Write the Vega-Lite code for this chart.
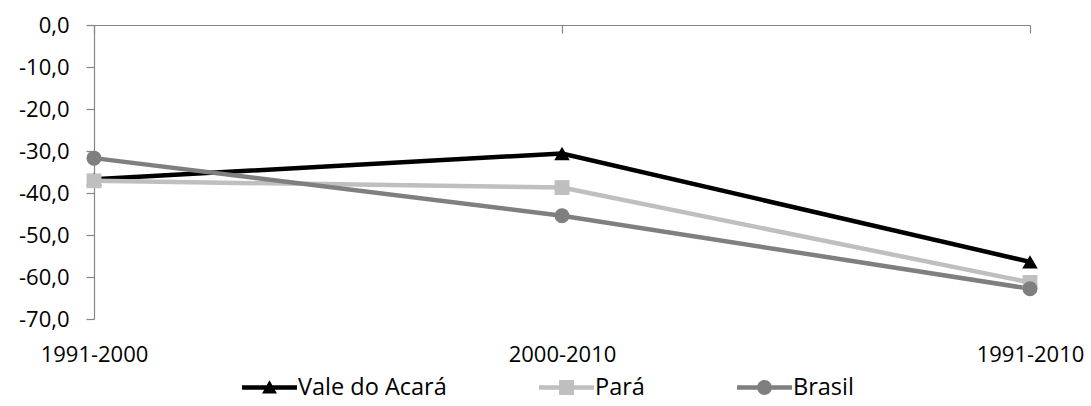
{
  "$schema": "https://vega.github.io/schema/vega-lite/v6.json",
  "width": 936,
  "height": 294,
  "autosize": "none",
  "padding": {"left": 94, "top": 25, "right": 61, "bottom": 87},
  "background": "white",
  "config": {
    "view": {"stroke": null},
    "font": "Open Sans",
    "locale": {
      "number": {"decimal": ",", "thousands": ".", "grouping": [3], "currency": ["R$", ""], "minus": "-"}
    }
  },
  "data": {
    "values": [
      {"periodo": "1991-2000", "serie": "Vale do Acará", "valor": -36.7},
      {"periodo": "2000-2010", "serie": "Vale do Acará", "valor": -30.6},
      {"periodo": "1991-2010", "serie": "Vale do Acará", "valor": -56.4},
      {"periodo": "1991-2000", "serie": "Pará", "valor": -37.1},
      {"periodo": "2000-2010", "serie": "Pará", "valor": -38.7},
      {"periodo": "1991-2010", "serie": "Pará", "valor": -61.3},
      {"periodo": "1991-2000", "serie": "Brasil", "valor": -31.7},
      {"periodo": "2000-2010", "serie": "Brasil", "valor": -45.4},
      {"periodo": "1991-2010", "serie": "Brasil", "valor": -62.8}
    ]
  },
  "encoding": {
    "y": {
      "field": "valor",
      "type": "quantitative",
      "scale": {"domain": [-70, 0], "nice": false, "zero": false},
      "axis": {
        "title": null,
        "grid": false,
        "values": [-70, -60, -50, -40, -30, -20, -10, 0],
        "format": ".1f",
        "domainColor": "#868686",
        "domainWidth": 1.2,
        "tickColor": "#868686",
        "tickWidth": 1.2,
        "tickSize": 8,
        "labelPadding": 17,
        "labelFont": "Open Sans",
        "labelFontSize": 22,
        "labelColor": "#000000"
      }
    }
  },
  "layer": [
    {
      "layer": [
        {
          "description": "Legend entries only: a line with the series marker in its middle.",
          "transform": [{"filter": "false"}],
          "mark": {"type": "point", "filled": true, "opacity": 1},
          "encoding": {
            "color": {
              "field": "serie",
              "type": "nominal",
              "scale": {
                "domain": ["Vale do Acará", "Pará", "Brasil"],
                "range": ["#000000", "#bfbfbf", "#7f7f7f"]
              },
              "legend": {
                "orient": "none",
                "legendX": 148,
                "legendY": 335,
                "direction": "horizontal",
                "columns": 3,
                "gridAlign": "each",
                "columnPadding": 92,
                "title": null,
                "labelFont": "Open Sans",
                "labelFontSize": 23.5,
                "labelColor": "#000000",
                "labelOffset": 1,
                "symbolSize": 3025,
                "symbolStrokeWidth": 0,
                "symbolOpacity": 1
              }
            },
            "shape": {
              "field": "serie",
              "type": "nominal",
              "scale": {
                "domain": ["Vale do Acará", "Pará", "Brasil"],
                "range": [
                  "M-1,-0.085H1V0.085H-1Z M-0.27,0.22L0,-0.26L0.27,0.22Z",
                  "M-1,-0.08H1V0.08H-1Z M-0.27,-0.27H0.27V0.27H-0.27Z",
                  "M-1,-0.08H1V0.08H-1Z M0.27,0A0.27,0.27 0 1,1 -0.27,0A0.27,0.27 0 1,1 0.27,0Z"
                ]
              },
              "legend": {
                "orient": "none",
                "legendX": 148,
                "legendY": 335,
                "direction": "horizontal",
                "columns": 3,
                "gridAlign": "each",
                "columnPadding": 92,
                "title": null,
                "labelFont": "Open Sans",
                "labelFontSize": 23.5,
                "labelColor": "#000000",
                "labelOffset": 1,
                "symbolSize": 3025,
                "symbolStrokeWidth": 0,
                "symbolOpacity": 1
              }
            }
          }
        },
        {
          "mark": {"type": "line", "strokeWidth": 4.5},
          "encoding": {
            "x": {
              "field": "periodo",
              "type": "ordinal",
              "sort": ["1991-2000", "2000-2010", "1991-2010"],
              "scale": {"type": "point", "padding": 0},
              "axis": {
                "orient": "bottom",
                "title": null,
                "domain": false,
                "ticks": false,
                "grid": false,
                "labelAngle": 0,
                "labelPadding": 25,
                "labelOverlap": false,
                "labelFont": "Open Sans",
                "labelFontSize": 22,
                "labelColor": "#000000"
              }
            },
            "stroke": {
              "field": "serie",
              "type": "nominal",
              "scale": {
                "domain": ["Vale do Acará", "Pará", "Brasil"],
                "range": ["#000000", "#bfbfbf", "#7f7f7f"]
              },
              "legend": null
            }
          }
        },
        {
          "transform": [{"filter": "datum.serie === 'Vale do Acará'"}],
          "mark": {"type": "point", "shape": "triangle-up", "filled": true, "size": 240, "color": "#000000", "opacity": 1},
          "encoding": {
            "x": {
              "field": "periodo",
              "type": "ordinal",
              "sort": ["1991-2000", "2000-2010", "1991-2010"],
              "scale": {"type": "point", "padding": 0}
            }
          }
        },
        {
          "transform": [{"filter": "datum.serie === 'Pará'"}],
          "mark": {"type": "point", "shape": "square", "filled": true, "size": 220, "color": "#bfbfbf", "opacity": 1},
          "encoding": {
            "x": {
              "field": "periodo",
              "type": "ordinal",
              "sort": ["1991-2000", "2000-2010", "1991-2010"],
              "scale": {"type": "point", "padding": 0}
            }
          }
        }
      ]
    },
    {
      "transform": [{"filter": "datum.serie === 'Brasil'"}],
      "mark": {"type": "point", "shape": "circle", "filled": true, "size": 225, "color": "#7f7f7f", "opacity": 1},
      "encoding": {
        "x": {
          "field": "periodo",
          "type": "ordinal",
          "sort": ["1991-2000", "2000-2010", "1991-2010"],
          "scale": {"type": "point", "padding": 0},
          "axis": {
            "orient": "top",
            "title": null,
            "labels": false,
            "grid": false,
            "domainColor": "#868686",
            "domainWidth": 1.2,
            "tickColor": "#868686",
            "tickWidth": 1.2,
            "tickSize": -8
          }
        }
      }
    }
  ],
  "resolve": {"axis": {"x": "independent"}}
}
